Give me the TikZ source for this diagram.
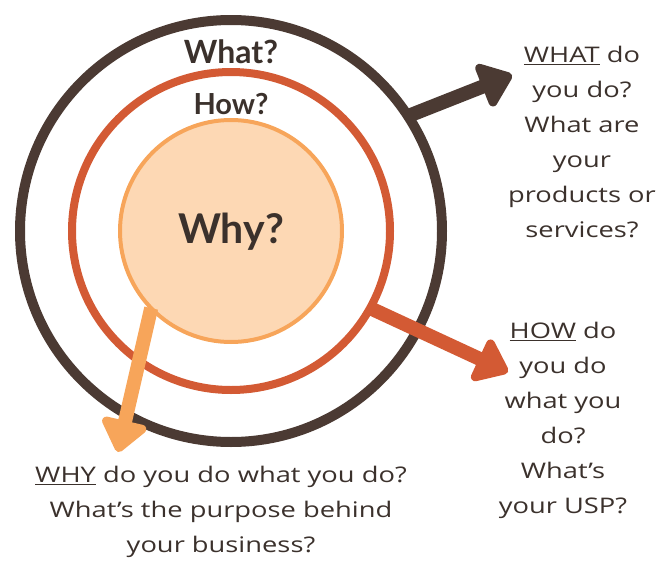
\documentclass[tikz,border=0pt]{standalone}
\usepackage{fontspec}
\usepackage{tikz}
\usepackage{xcolor}
\setmainfont{Open Sans}
\newfontfamily\ringfont{Lato}
\newfontfamily\handfont[FakeStretch=1.27,Ligatures=TeX]{Open Sans}
\usetikzlibrary{arrows.meta}
\definecolor{darkbrown}{HTML}{4B3A33}
\definecolor{rust}{HTML}{D35A34}
\definecolor{apricot}{HTML}{F7A55A}
\definecolor{peach}{HTML}{FDD8B4}
\definecolor{ink}{HTML}{3B312C}
\tikzset{
    ring/.style={circle, draw, outer sep=0pt, inner sep=0pt},
    ringlabel/.style={text=ink, font=\ringfont\bfseries\fontsize{#1}{#1}\selectfont},
    qtext/.style={text=ink, align=center, font=\handfont\fontsize{21.5}{35}\selectfont},
    bigarrow/.style={line width=14pt, line cap=butt, -{Triangle[length=35pt,width=52pt,round]}}
}

\begin{document}
\begin{tikzpicture}[line cap=round,line join=round,x=1pt,y=-1pt]
                \useasboundingbox (0,0) rectangle (664,562);
                % the three circles
                \node [ring, draw=darkbrown, line width=10pt, minimum size=422pt] (WHAT) at (231,231) {};
                \node [ring, draw=rust, line width=8pt, minimum size=318pt] (HOW) at (231,231) {};
                \node [ring, draw=apricot, fill=peach, line width=4pt, minimum size=222pt] (WHY) at (231,231) {};
                \node [ringlabel=32] (whatlabel) at (231,52) {What?};
                \node [ringlabel=29] (howlabel) at (231,104) {How?};
                \node [ringlabel=41] (whylabel) at (231,232) {Why?};
                % the questions
                \node [qtext] (whattext) at (582,142) {\underline{WHAT} do\\you do?\\What are\\your\\products or\\services?};
                \node [qtext] (howtext) at (563,420) {\underline{HOW} do\\you do\\what you\\do?\\What’s\\your USP?};
                \node [qtext] (whytext) at (221,512) {\underline{WHY} do you do what you do?\\What’s the purpose behind\\your business?};
                % the arrows
                \coordinate (whattip) at (512,75);
                \coordinate (howtip) at (508,372);
                \coordinate (whytip) at (118,452);
                \draw [bigarrow, darkbrown] (WHAT.33) -- (whattip);
                \draw [bigarrow, rust] (HOW.-29) -- (howtip);
                \draw [bigarrow, apricot] (WHY.224) -- (whytip);
\end{tikzpicture}
\end{document}
